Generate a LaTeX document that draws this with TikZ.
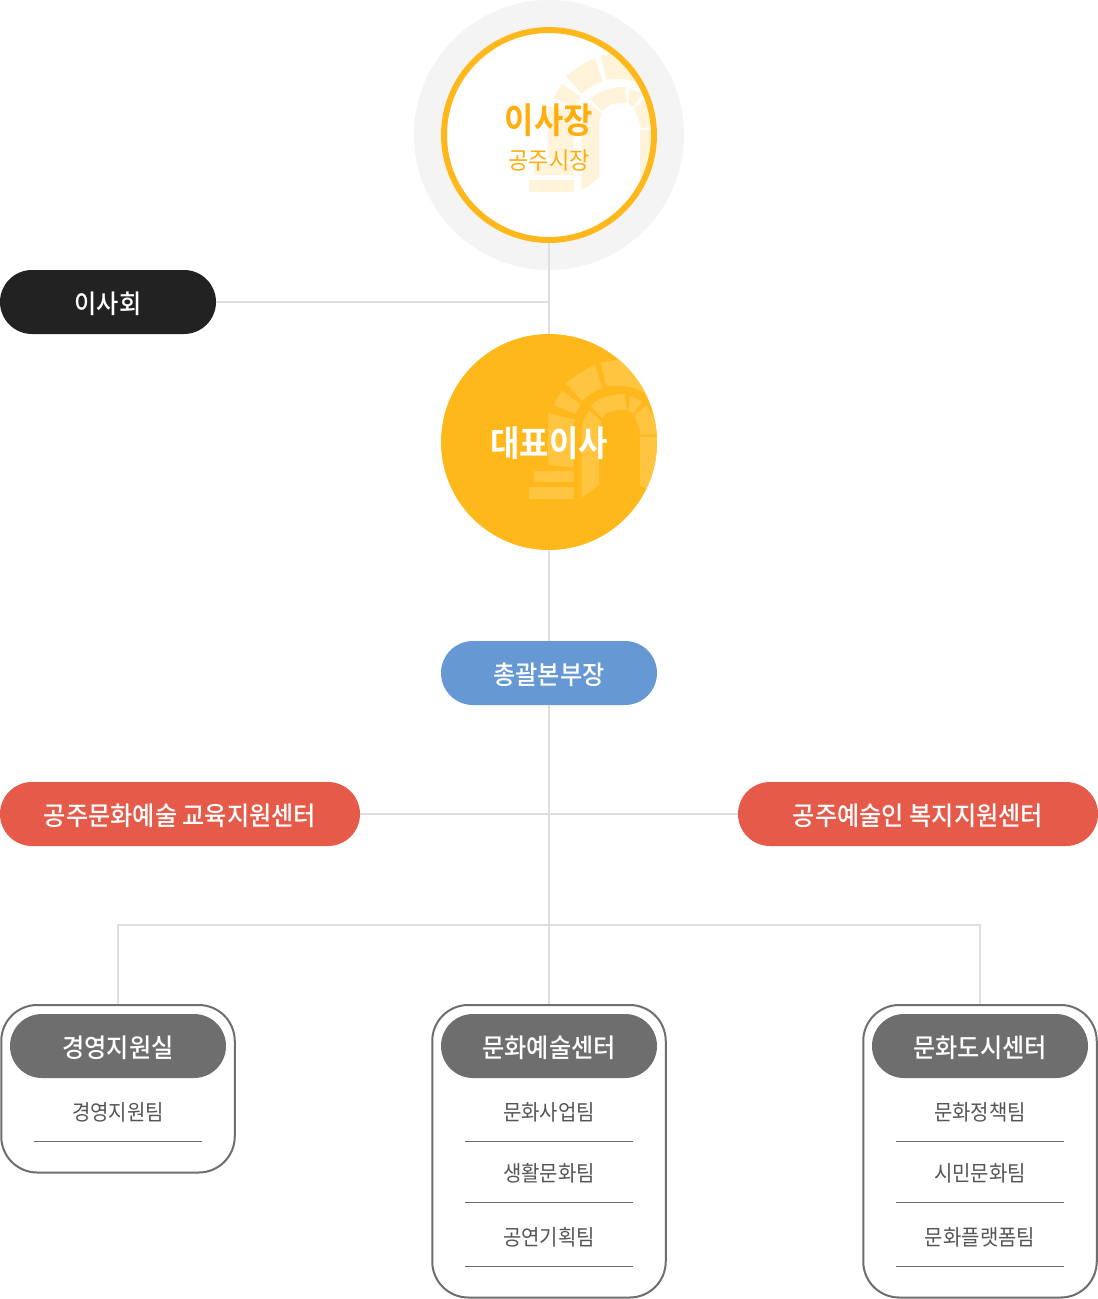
\documentclass[tikz,border=0pt]{standalone}
\usepackage{fontspec}
\setmainfont{Noto Sans CJK KR}
\newfontfamily\krteam{Noto Sans CJK KR}[FakeStretch=0.92]
\newfontfamily\krmed{Noto Sans CJK KR Medium}[FakeStretch=0.93]
\newfontfamily\krbold{Noto Sans CJK KR Bold}[FakeStretch=0.9]
\definecolor{cgold}{HTML}{FFB81C}
\definecolor{ctitle}{HTML}{FFAE0D}
\definecolor{cpale}{HTML}{FFF3DA}
\definecolor{cmark}{HTML}{FFC440}
\definecolor{chalo}{HTML}{F4F4F4}
\definecolor{cgrey}{HTML}{6E6E6E}
\definecolor{cline}{HTML}{DEDEDE}
\definecolor{cblack}{HTML}{222222}
\definecolor{cblue}{HTML}{6699D3}
\definecolor{cred}{HTML}{E55A49}
\definecolor{cteam}{HTML}{555555}
\tikzset{
 pill/.style={rounded corners=32pt,minimum height=64pt,inner sep=0pt,text=white,text height=23pt,text depth=0pt,font=\fontsize{26}{26}\selectfont\krmed},
 groupbox/.style={draw=cgrey,line width=2pt,fill=white,rounded corners=36pt,inner sep=0pt,minimum width=233.5pt},
 head/.style={pill,fill=cgrey,minimum width=216pt},
 team/.style={text=cteam,inner sep=0pt,font=\fontsize{21.7}{21.7}\selectfont\krteam},
 wire/.style={draw=cline,line width=1.5pt},
 sep/.style={draw=cgrey,line width=1pt}
}
\newcommand{\archmark}[3]{%
 \begin{scope}[shift={(549,#1)}]
 \clip (0,0) circle (#2);
 \fill[#3] (-14.7,29) rectangle (24.7,40);
 \fill[#3] (-20,44.7) rectangle (24.7,57.3);
 \fill[#3] (-1,-28.7) -- (26,-22.7) .. controls (25,-18) and (24.7,-15) .. (24.7,-12) -- (24.7,25.7) -- (-1,23) -- cycle;
 \fill[#3] (4.3,-37) -- (12.7,-51.3) -- (31.7,-38) -- (26,-28) -- cycle;
 \fill[#3] (16.7,-58.7) .. controls (26,-66) and (36,-73) .. (46,-77) -- (53.7,-53.7) .. controls (46,-51) and (38,-46) .. (32.7,-41.3) -- cycle;
 \fill[#3] (51.7,-79.3) -- (112,-90) -- (112,-50) -- (94,-50) .. controls (84,-56) and (70,-57) .. (57.7,-55.3) -- cycle;
 \fill[#3] (41.7,-36) .. controls (46,-41) and (52,-44) .. (57.7,-45.3) .. controls (64,-47.5) and (70,-48) .. (76,-48) -- (77.7,-32) .. controls (72,-32) and (66,-32) .. (62.7,-31) .. controls (58,-29) and (55,-26) .. (52.7,-23.7) -- cycle;
 \fill[#3] (81,-46.3) -- (93.3,-41) -- (84.3,-28) -- (79.3,-32) -- cycle;
 \fill[#3] (97,-37) .. controls (101,-32) and (107,-20) .. (110,-8.7) -- (91,-7) .. controls (91,-14) and (88,-21) .. (85,-26) -- cycle;
 \fill[#3] (32.7,-15.3) .. controls (34,-22) and (37,-27) .. (40.3,-31) -- (52.7,-21.3) .. controls (51,-17) and (50,-13) .. (50,-8.7) -- (50,43) -- (32.7,55.7) -- cycle;
 \fill[#3] (91,-5.3) -- (112,-5.3) -- (112,52) -- (97.7,47.3) -- (91,43) -- cycle;
 \end{scope}}
\begin{document}
\begin{tikzpicture}[x=1pt,y=-1pt]
\useasboundingbox (0,0) rectangle (1098,1299);
\fill[chalo] (549,135) circle (135);
% nodes
\node[circle,fill=white,minimum size=216pt,inner sep=0pt,outer sep=0pt] (chair) at (549,135) {};
\archmark{135}{105}{cpale}
\draw[cgold,line width=6pt] (549,135) circle (105);
\node[inner sep=0pt,text=ctitle,font=\fontsize{35.5}{35.5}\selectfont\krbold] (chairname) at (549,120) {이사장};
\node[inner sep=0pt,text=ctitle,font=\fontsize{24}{24}\selectfont\krteam] (chairsub) at (549,160.5) {공주시장};
\node[circle,fill=cgold,minimum size=216pt,inner sep=0pt,outer sep=0pt] (ceo) at (549,442) {};
\archmark{442}{108}{cmark}
\node[inner sep=0pt,text=white,font=\fontsize{35.5}{35.5}\selectfont\krbold] (ceoname) at (549,443) {대표이사};
\node[pill,fill=cblack,minimum width=216pt] (board) at (108,302) {이사회};
\node[pill,fill=cblue,minimum width=216pt] (chief) at (549,673) {총괄본부장};
\node[pill,fill=cred,minimum width=360pt] (eduC) at (180,814) {공주문화예술 교육지원센터};
\node[pill,fill=cred,minimum width=360pt] (welC) at (918,814) {공주예술인 복지지원센터};
\node[groupbox,minimum height=167.5pt] (box1) at (118,1088.75) {};
\node[groupbox,minimum height=292.5pt] (box2) at (549,1151.25) {};
\node[groupbox,minimum height=292.5pt] (box3) at (980,1151.25) {};
\coordinate (hub) at (549,925);
% connectors
\draw[wire] (chair.south) -- (ceo.north);
\draw[wire] (board.east) -- (board.east -| chair.south);
\draw[wire] (ceo.south) -- (chief.north);
\draw[wire] (chief.south) -- (box2.north);
\draw[wire] (eduC.east) -- (welC.west);
\draw[wire] (box1.north) |- (hub) -| (box3.north);
% group contents
\node[head] (h1) at (118,1046) {경영지원실};
\node[head] (h2) at (549,1046) {문화예술센터};
\node[head] (h3) at (980,1046) {문화도시센터};
\node[team] (t11) at (118,1112) {경영지원팀};
\node[team] (t21) at (549,1112) {문화사업팀};
\node[team] (t22) at (549,1173) {생활문화팀};
\node[team] (t23) at (549,1237) {공연기획팀};
\node[team] (t31) at (980,1112) {문화정책팀};
\node[team] (t32) at (980,1173) {시민문화팀};
\node[team] (t33) at (980,1237) {문화플랫폼팀};
\foreach \cx in {118,549,980}{\draw[sep] (\cx-84,1141.5) -- (\cx+84,1141.5);}
\foreach \cx in {549,980}{
 \draw[sep] (\cx-84,1202.5) -- (\cx+84,1202.5);
 \draw[sep] (\cx-84,1266.5) -- (\cx+84,1266.5);}
\end{tikzpicture}
\end{document}
